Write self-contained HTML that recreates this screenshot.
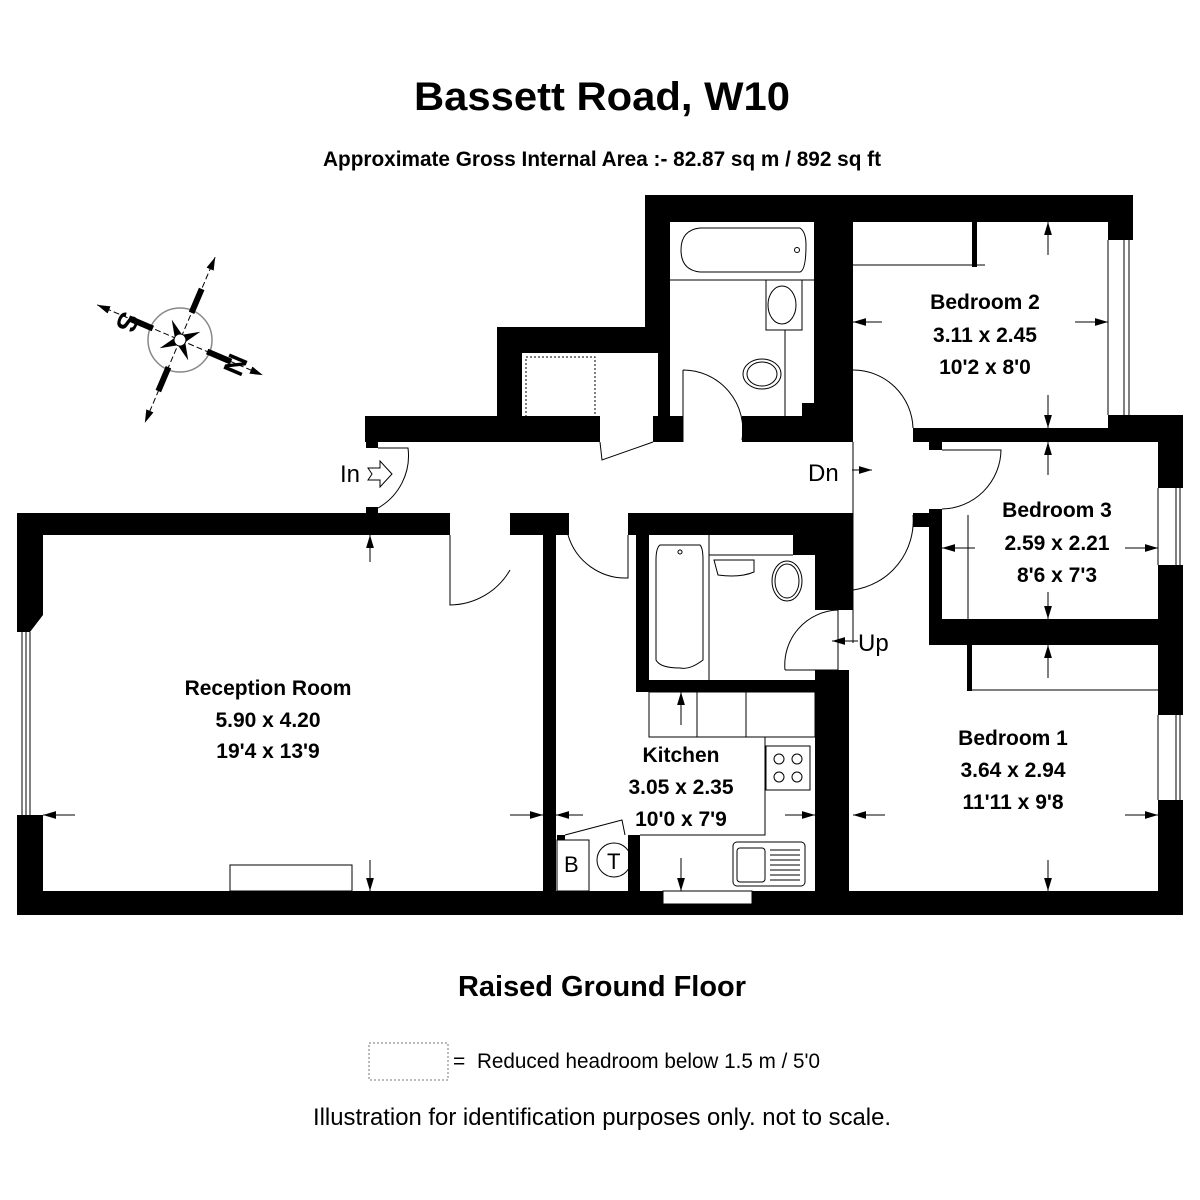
<!DOCTYPE html>
<html><head><meta charset="utf-8">
<style>
html,body{margin:0;padding:0;background:#fff;}
svg{display:block;}
.b{font-family:"Liberation Sans Narrow","Liberation Sans",sans-serif;font-weight:bold;fill:#000;}
.n{font-family:"Liberation Sans Narrow","Liberation Sans",sans-serif;fill:#000;}
</style></head><body>
<svg width="1200" height="1200" viewBox="0 0 1200 1200" xmlns="http://www.w3.org/2000/svg">
<rect width="1200" height="1200" fill="#fff"/>
<defs>
<marker id="ar" viewBox="0 0 10 10" refX="10" refY="5" markerWidth="13" markerHeight="13" orient="auto-start-reverse" markerUnits="userSpaceOnUse"><path d="M0,2 L10,5 L0,8 z" fill="#000"/></marker>
</defs>
<text class="b" x="602" y="110" font-size="40" text-anchor="middle" textLength="376" lengthAdjust="spacingAndGlyphs">Bassett Road, W10</text>
<text class="b" x="602" y="166" font-size="21" text-anchor="middle" textLength="558" lengthAdjust="spacingAndGlyphs">Approximate Gross Internal Area :- 82.87 sq m / 892 sq ft</text>

<!-- compass -->
<g transform="translate(180,340)" stroke="#000" fill="none">
<circle r="32" stroke="#888" stroke-width="1.5"/>
<g transform="rotate(23)">
<line x1="-90" y1="0" x2="90" y2="0" stroke-width="1" stroke-dasharray="6,3" marker-end="url(#ar)" marker-start="url(#ar)"/>
<line x1="0" y1="-90" x2="0" y2="90" stroke-width="1" stroke-dasharray="6,3" marker-end="url(#ar)" marker-start="url(#ar)"/>
<rect x="-55" y="-2.5" width="25" height="5" fill="#000"/><rect x="30" y="-2.5" width="25" height="5" fill="#000"/>
<rect x="-2.5" y="-55" width="5" height="25" fill="#000"/><rect x="-2.5" y="30" width="5" height="25" fill="#000"/>
<path d="M0,-22 L4,-4 L22,0 L4,4 L0,22 L-4,4 L-22,0 L-4,-4 z" fill="#000" stroke="none" transform="rotate(45)"/>
<circle r="6" fill="#fff" stroke-width="1"/>
</g>
</g>
<text class="b" x="127" y="331" font-size="28" transform="rotate(113 127 322)" text-anchor="middle">S</text>
<text class="b" x="236" y="374" font-size="28" transform="rotate(-67 236 365)" text-anchor="middle">N</text>

<g fill="#000">
<rect x="17" y="513" width="433" height="22"/>
<path d="M17,513 H43 V615 L30,632 H17 Z"/>
<rect x="17" y="815" width="26" height="100"/>
<rect x="17" y="891" width="1166" height="24"/>
<rect x="543" y="535" width="13" height="356"/>
<rect x="510" y="513" width="59" height="22"/>
<rect x="628" y="513" width="225" height="22"/>
<rect x="365" y="416" width="235" height="26"/>
<rect x="653" y="416" width="30" height="26"/>
<rect x="742" y="416" width="111" height="26"/>
<rect x="366" y="442" width="12" height="6"/>
<rect x="366" y="507" width="12" height="8"/>
<rect x="497" y="327" width="173" height="26"/>
<rect x="497" y="327" width="25" height="115"/>
<rect x="645" y="195" width="25" height="158"/>
<rect x="658" y="353" width="12" height="70"/>
<rect x="645" y="195" width="488" height="27"/>
<rect x="814" y="222" width="34" height="220"/>
<rect x="802" y="403" width="12" height="20"/>
<rect x="840" y="222" width="13" height="220"/>
<rect x="1108" y="195" width="25" height="45"/>
<rect x="913" y="428" width="195" height="14"/>
<rect x="1108" y="415" width="75" height="27"/>
<rect x="929" y="442" width="13" height="8"/>
<rect x="1158" y="442" width="25" height="46"/>
<rect x="1158" y="565" width="25" height="150"/>
<rect x="1158" y="800" width="25" height="115"/>
<rect x="929" y="509" width="13" height="136"/>
<rect x="913" y="513" width="16" height="14"/>
<rect x="929" y="619" width="254" height="26"/>
<rect x="636" y="513" width="13" height="179"/>
<rect x="636" y="680" width="179" height="12"/>
<rect x="793" y="535" width="55" height="20"/>
<rect x="815" y="555" width="33" height="55"/>
<rect x="838" y="513" width="15" height="97"/>
<rect x="815" y="670" width="34" height="221"/>
<rect x="557" y="835" width="8" height="5"/>
<rect x="628" y="835" width="12" height="56"/>
<rect x="972" y="222" width="5" height="45"/>
<rect x="967" y="643" width="5" height="48"/>
</g>

<g fill="none" stroke="#000" stroke-width="1">
<line x1="22" y1="632" x2="22" y2="815"/><line x1="26" y1="632" x2="26" y2="815"/><line x1="30" y1="632" x2="30" y2="815"/>
<line x1="1108" y1="240" x2="1108" y2="415"/><line x1="1124" y1="240" x2="1124" y2="415"/><line x1="1129" y1="240" x2="1129" y2="415"/>
<line x1="1158" y1="488" x2="1158" y2="565"/><line x1="1176" y1="488" x2="1176" y2="565"/><line x1="1180" y1="488" x2="1180" y2="565"/>
<line x1="1158" y1="715" x2="1158" y2="800"/><line x1="1176" y1="715" x2="1176" y2="800"/><line x1="1180" y1="715" x2="1180" y2="800"/>
<rect x="663" y="891" width="89" height="13" fill="#fff"/><line x1="667" y1="910" x2="748" y2="910"/>
<path d="M378,448 H408 A60,60 0 0 1 378,508"/>
<path d="M450,535 V605 A70,70 0 0 0 510,570"/>
<path d="M568,535 A60,60 0 0 0 628,578 V535"/>
<path d="M600,442 L602,460 L653,442"/>
<path d="M683,370 V442 M683,370 A60,60 0 0 1 742,440"/>
<path d="M853,370 A60,60 0 0 1 913,428"/>
<path d="M853,590 V515 M853,590 A70,70 0 0 0 913,515"/>
<path d="M942,450 H1001 A60,60 0 0 1 942,509"/>
<path d="M785,670 H838 V610 A55,55 0 0 0 785,670"/>
<line x1="853" y1="442" x2="853" y2="643"/>
<rect x="526" y="357" width="69" height="69" stroke-dasharray="2,2"/>
<line x1="670" y1="280" x2="814" y2="280"/>
<path d="M700,228 H800 Q806,232 806,245 Q806,270 800,272 H700 Q681,270 681,250 Q681,230 700,228 Z"/>
<circle cx="797" cy="250" r="2.5"/>
<rect x="766" y="280" width="36" height="50"/>
<ellipse cx="782" cy="305" rx="14" ry="19"/>
<line x1="785" y1="330" x2="785" y2="428"/>
<ellipse cx="762" cy="374" rx="19" ry="15"/><ellipse cx="762" cy="374" rx="15" ry="12"/>
<line x1="709" y1="535" x2="709" y2="680"/>
<line x1="709" y1="555" x2="793" y2="555"/>
<path d="M660,545 H700 Q703,548 703,560 V660 Q690,670 680,668 Q660,668 656,660 V560 Q656,548 660,545 Z"/>
<circle cx="680" cy="552" r="2"/>
<path d="M714,560 H754 V572 Q740,578 718,575 Z"/>
<ellipse cx="787" cy="581" rx="15" ry="20"/><ellipse cx="787" cy="581" rx="12" ry="17"/>
<rect x="649" y="692" width="166" height="45"/>
<line x1="697" y1="692" x2="697" y2="737"/><line x1="746" y1="692" x2="746" y2="737"/>
<path d="M765,737 V835 H640"/>
<rect x="766" y="746" width="44" height="44"/>
<circle cx="779" cy="759" r="5"/><circle cx="797" cy="759" r="5"/><circle cx="779" cy="777" r="5"/><circle cx="797" cy="777" r="5"/>
<rect x="733" y="842" width="72" height="44" rx="4"/>
<rect x="737" y="848" width="28" height="34" rx="3"/>
<path d="M770,850 H800 M770,855 H800 M770,860 H800 M770,865 H800 M770,870 H800 M770,875 H800 M770,880 H800"/>
<rect x="557" y="840" width="32" height="51"/>
<circle cx="614" cy="860" r="17"/>
<path d="M565,835 L622,820 L625,835"/>
<rect x="230" y="865" width="122" height="26"/>
<path d="M853,265 H975 M975,265 H985"/>
<path d="M968,515 V619"/>
<path d="M970,690 H1158"/>
<path d="M368,468 H380 V461 L392,474 L380,487 V480 H368 L372,474 Z"/>
</g>
<rect x="369" y="1043" width="79" height="37" fill="none" stroke="#777" stroke-width="1" stroke-dasharray="2,2"/>
<text class="n" x="453" y="1068" font-size="21">=</text>
<text class="n" x="477" y="1068" font-size="21" textLength="343" lengthAdjust="spacingAndGlyphs">Reduced headroom below 1.5 m / 5'0</text>
<text class="n" x="602" y="1125" font-size="24" text-anchor="middle" textLength="578" lengthAdjust="spacingAndGlyphs">Illustration for identification purposes only. not to scale.</text>
<text class="b" x="602" y="996" font-size="29" text-anchor="middle" textLength="288" lengthAdjust="spacingAndGlyphs">Raised Ground Floor</text>

<g stroke="#000" stroke-width="1" marker-end="url(#ar)">
<line x1="75" y1="815" x2="43" y2="815"/><line x1="510" y1="815" x2="543" y2="815"/>
<line x1="370" y1="562" x2="370" y2="535"/><line x1="370" y1="860" x2="370" y2="891"/>
<line x1="583" y1="815" x2="556" y2="815"/><line x1="785" y1="815" x2="815" y2="815"/>
<line x1="681" y1="725" x2="681" y2="692"/><line x1="681" y1="858" x2="681" y2="891"/>
<line x1="882" y1="322" x2="853" y2="322"/><line x1="1075" y1="322" x2="1108" y2="322"/>
<line x1="1048" y1="255" x2="1048" y2="222"/><line x1="1048" y1="395" x2="1048" y2="428"/>
<line x1="975" y1="548" x2="942" y2="548"/><line x1="1125" y1="548" x2="1158" y2="548"/>
<line x1="1048" y1="475" x2="1048" y2="442"/><line x1="1048" y1="592" x2="1048" y2="619"/>
<line x1="885" y1="815" x2="853" y2="815"/><line x1="1125" y1="815" x2="1158" y2="815"/>
<line x1="1048" y1="678" x2="1048" y2="645"/><line x1="1048" y1="860" x2="1048" y2="891"/>
<line x1="852" y1="470" x2="872" y2="470"/><line x1="858" y1="641" x2="832" y2="641"/>
</g>

<g class="b" font-size="21" text-anchor="middle">
<text x="268" y="695">Reception Room</text><text x="268" y="727">5.90 x 4.20</text><text x="268" y="758">19'4 x 13'9</text>
<text x="681" y="762">Kitchen</text><text x="681" y="794">3.05 x 2.35</text><text x="681" y="826">10'0 x 7'9</text>
<text x="985" y="309">Bedroom 2</text><text x="985" y="342">3.11 x 2.45</text><text x="985" y="374">10'2 x 8'0</text>
<text x="1057" y="517">Bedroom 3</text><text x="1057" y="550">2.59 x 2.21</text><text x="1057" y="582">8'6 x 7'3</text>
<text x="1013" y="745">Bedroom 1</text><text x="1013" y="777">3.64 x 2.94</text><text x="1013" y="809">11'11 x 9'8</text>
</g>
<g class="n" font-size="24">
<text x="340" y="482">In</text>
<text x="808" y="481">Dn</text>
<text x="858" y="651">Up</text>
<text x="564" y="872" font-size="22">B</text>
<text x="607" y="869" font-size="22">T</text>
</g>
</svg>
</body></html>
